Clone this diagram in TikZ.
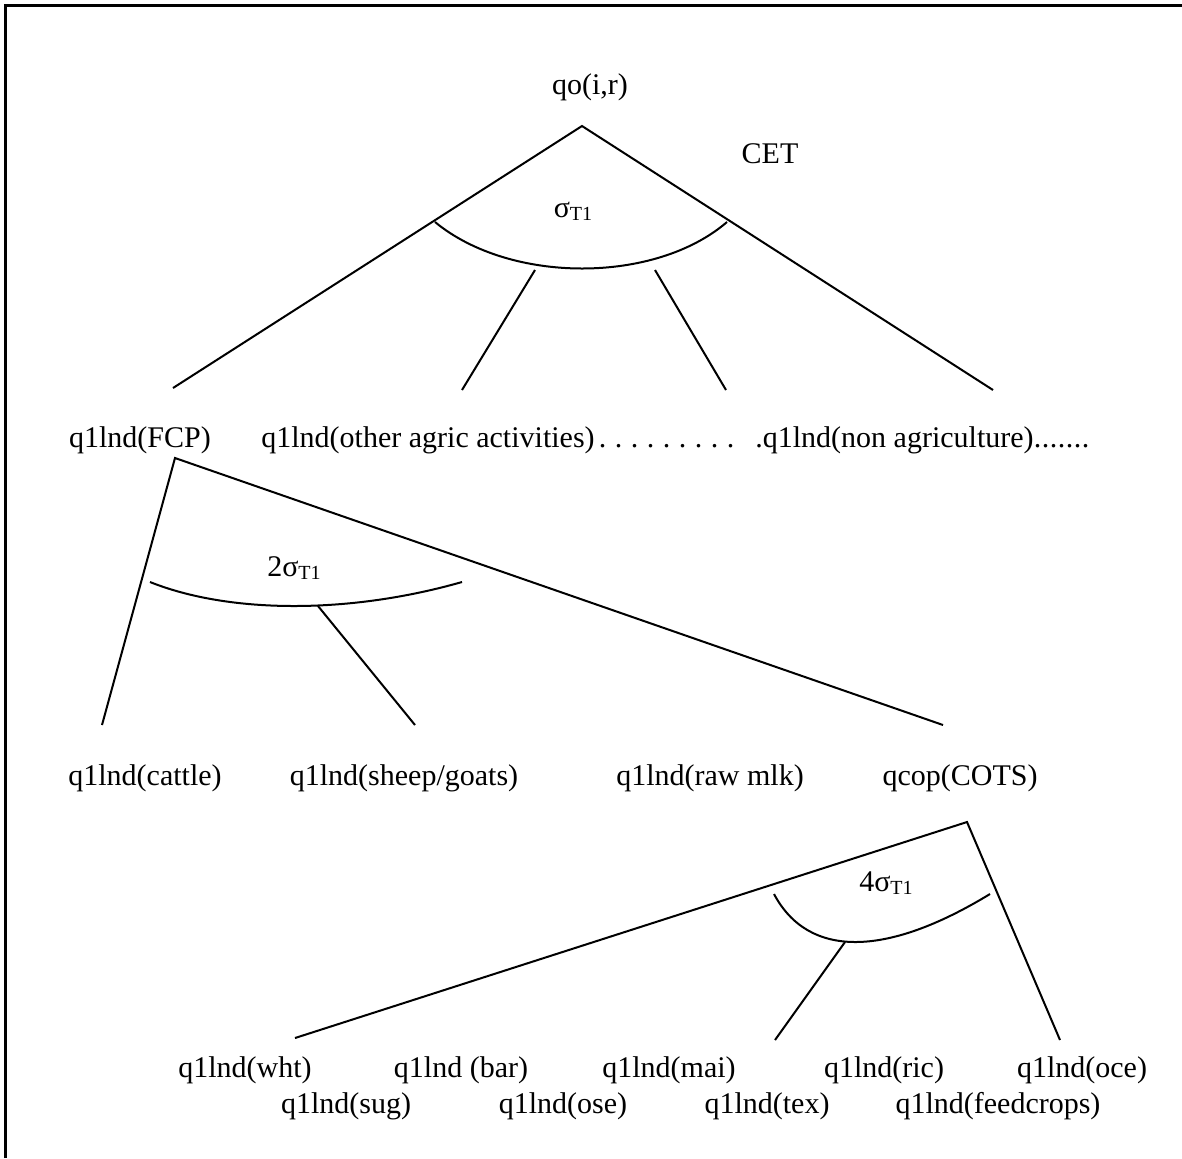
\documentclass[tikz,border=0pt]{standalone}
\usepackage{fontspec}
\setmainfont{Liberation Serif}
\newcommand\lblfont{\fontsize{15}{18}\selectfont}
\newcommand\sigT{σ\raisebox{-1.5pt}{\fontsize{10}{12}\selectfont T1}}
% a row of #2 evenly spaced dots filling a box of width #1
\newcommand\dotrow[2]{\hbox to #1{\xleaders\hbox to \dimexpr#1/#2\relax{\hss.\hss}\hfill}}
\begin{document}
\begin{tikzpicture}[x=0.5pt,y=-0.5pt,
  lbl/.style={anchor=base,inner sep=0pt,font=\lblfont},
  edge/.style={line width=1pt},
  frame/.style={line width=1.5pt}]
\useasboundingbox (0,0) rectangle (1182,1158);
\draw[frame] (5,1158) -- (5,5) -- (1182,5);

% ---- top level: CET over all land uses
\node[lbl] (qo) at (590,94) {qo(i,r)};
\node[lbl] (cet) at (770,163) {CET};
\node[lbl] (s1) at (573,217) {\sigT};
\coordinate (t0) at (582,126);
\coordinate (t0l) at (173,388);
\coordinate (t0r) at (993,390);
\coordinate (t0a) at (462,390);
\coordinate (t0b) at (726,390);
\coordinate (a0l) at (435,222);
\coordinate (a0r) at (727,222);
\coordinate (b0l) at (535,270);
\coordinate (b0r) at (655,270);
\draw[edge] (t0l) -- (t0) -- (t0r);
\draw[edge] (a0l) .. controls (510,284) and (655,284) .. (a0r);
\draw[edge] (b0l) -- (t0a);
\draw[edge] (b0r) -- (t0b);

\node[lbl] (fcp) at (140,447) {q1lnd(FCP)};
\node[lbl,anchor=base west] (other) at (261,447)
  {q1lnd(other agric activities)\dotrow{72pt}{9}};
\node[lbl,anchor=base east] (nonag) at (1090,447)
  {.q1lnd(non agriculture)\dotrow{28pt}{7}};

% ---- second level: FCP
\coordinate (t1) at (175,458);
\coordinate (t1l) at (102,725);
\coordinate (t1r) at (943,725);
\coordinate (t1a) at (415,725);
\coordinate (a1l) at (150,582);
\coordinate (a1r) at (462,582);
\coordinate (b1) at (318,606);
\draw[edge] (t1l) -- (t1) -- (t1r);
\draw[edge] (a1l) .. controls (230,614) and (350,614) .. (a1r);
\draw[edge] (b1) -- (t1a);
\node[lbl] (s2) at (294,576) {2\sigT};

\node[lbl] (cattle) at (145,785) {q1lnd(cattle)};
\node[lbl] (sheep) at (404,785) {q1lnd(sheep/goats)};
\node[lbl] (rawmlk) at (710,785) {q1lnd(raw mlk)};
\node[lbl] (cots) at (960,785) {qcop(COTS)};

% ---- third level: COTS
\coordinate (t2) at (967,822);
\coordinate (t2l) at (295,1038);
\coordinate (t2r) at (1060,1040);
\coordinate (t2a) at (775,1040);
\coordinate (a2l) at (774,894);
\coordinate (a2r) at (990,894);
\coordinate (b2) at (845,942);
\draw[edge] (t2l) -- (t2) -- (t2r);
\draw[edge] (a2l) .. controls (808,958) and (885,958) .. (a2r);
\draw[edge] (b2) -- (t2a);
\node[lbl] (s3) at (886,891) {4\sigT};

\node[lbl] (wht) at (245,1077) {q1lnd(wht)};
\node[lbl] (bar) at (461,1077) {q1lnd (bar)};
\node[lbl] (mai) at (669,1077) {q1lnd(mai)};
\node[lbl] (ric) at (884,1077) {q1lnd(ric)};
\node[lbl] (oce) at (1082,1077) {q1lnd(oce)};
\node[lbl] (sug) at (346,1113) {q1lnd(sug)};
\node[lbl] (ose) at (563,1113) {q1lnd(ose)};
\node[lbl] (tex) at (767,1113) {q1lnd(tex)};
\node[lbl] (feed) at (998,1113) {q1lnd(feedcrops)};
\end{tikzpicture}
\end{document}
